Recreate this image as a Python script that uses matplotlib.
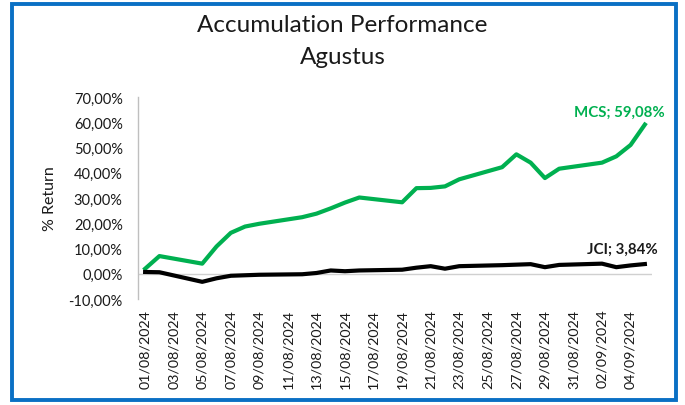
import matplotlib
matplotlib.use("Agg")
import matplotlib.pyplot as plt
import matplotlib.dates as mdates
from matplotlib.patches import Rectangle
from matplotlib.ticker import FuncFormatter
import pandas as pd

# trading days shown on the chart
dates = [
    "01/08/2024", "02/08/2024", "05/08/2024", "06/08/2024", "07/08/2024",
    "08/08/2024", "09/08/2024", "12/08/2024", "13/08/2024", "14/08/2024",
    "15/08/2024", "16/08/2024", "19/08/2024", "20/08/2024", "21/08/2024",
    "22/08/2024", "23/08/2024", "26/08/2024", "27/08/2024", "28/08/2024",
    "29/08/2024", "30/08/2024", "02/09/2024", "03/09/2024", "04/09/2024",
    "05/09/2024",
]
# cumulative return, %
mcs = [2.0, 7.0, 4.0, 10.8, 16.2, 18.7, 19.8, 22.4, 23.8, 25.9,
       28.2, 30.2, 28.3, 33.9, 34.0, 34.6, 37.4, 42.2, 47.3, 44.0,
       37.9, 41.6, 44.0, 46.5, 51.0, 59.08]
jci = [0.7, 0.6, -3.2, -1.8, -0.8, -0.6, -0.4, -0.2, 0.3, 1.3,
       1.0, 1.3, 1.6, 2.4, 3.0, 2.0, 3.0, 3.4, 3.6, 3.8,
       2.6, 3.5, 4.0, 2.6, 3.3, 3.84]
y_ticks = [-10, 0, 10, 20, 30, 40, 50, 60, 70]

MCS_GREEN = "#00B050"
TEXT = "#1a1a1a"

plt.rcParams["font.family"] = ["Lato", "DejaVu Sans"]

x = pd.to_datetime(dates, dayfirst=True)

fig = plt.figure(figsize=(6.85, 4.06), dpi=100)
ax = fig.add_axes([138 / 685, 1 - 300 / 406, (652 - 138) / 685, (300 - 98) / 406])

ax.plot(x, mcs, color=MCS_GREEN, lw=3.0, solid_joinstyle="round", zorder=3)
ax.plot(x, jci, color="black", lw=3.0, solid_joinstyle="round", zorder=3)
ax.axhline(0, color="#d0d0d0", lw=1.0, zorder=1)

ax.set_ylim(-10, 70)
ax.set_yticks(y_ticks)
ax.yaxis.set_major_formatter(FuncFormatter(lambda v, _: f"{v:.2f}%".replace(".", ",")))
ax.set_xlim(x[0] - pd.Timedelta(hours=12), x[-1] + pd.Timedelta(hours=12))
ax.set_xticks(pd.date_range("2024-08-01", "2024-09-04", freq="2D"))
ax.xaxis.set_major_formatter(mdates.DateFormatter("%d/%m/%Y"))
ax.tick_params(axis="x", rotation=90, length=0, pad=7, labelsize=10.3, labelcolor=TEXT)
ax.tick_params(axis="y", length=0, pad=11, labelsize=10.5, labelcolor=TEXT)

for side in ("top", "right", "bottom"):
    ax.spines[side].set_visible(False)
ax.spines["left"].set_color("#bfbfbf")
ax.spines["left"].set_linewidth(1.0)

ax.set_ylabel("% Return", fontsize=11.5, color=TEXT, labelpad=8)

ax.annotate(f"MCS; {mcs[-1]:.2f}%".replace(".", ","), (x[-1], mcs[-1]),
            xytext=(14, 9), textcoords="offset points", ha="right", va="center",
            color=MCS_GREEN, fontsize=10.8, fontweight="bold")
ax.annotate(f"JCI; {jci[-1]:.2f}%".replace(".", ","), (x[-1], jci[-1]),
            xytext=(9, 11), textcoords="offset points", ha="right", va="center",
            color=TEXT, fontsize=10.8, fontweight="bold")

fig.text(0.5, 1 - 25 / 406, "Accumulation Performance", ha="center", va="center",
         fontsize=17.5, color=TEXT)
fig.text(0.5, 1 - 57 / 406, "Agustus", ha="center", va="center",
         fontsize=17.5, color=TEXT)

# blue frame around the chart
fig.patches.append(Rectangle((12 / 685, 5 / 406), (676 - 12) / 685, (401 - 5) / 406,
                             transform=fig.transFigure, fill=False,
                             edgecolor="#0A70C4", lw=2.8))

fig.savefig("out.png", dpi=100)
